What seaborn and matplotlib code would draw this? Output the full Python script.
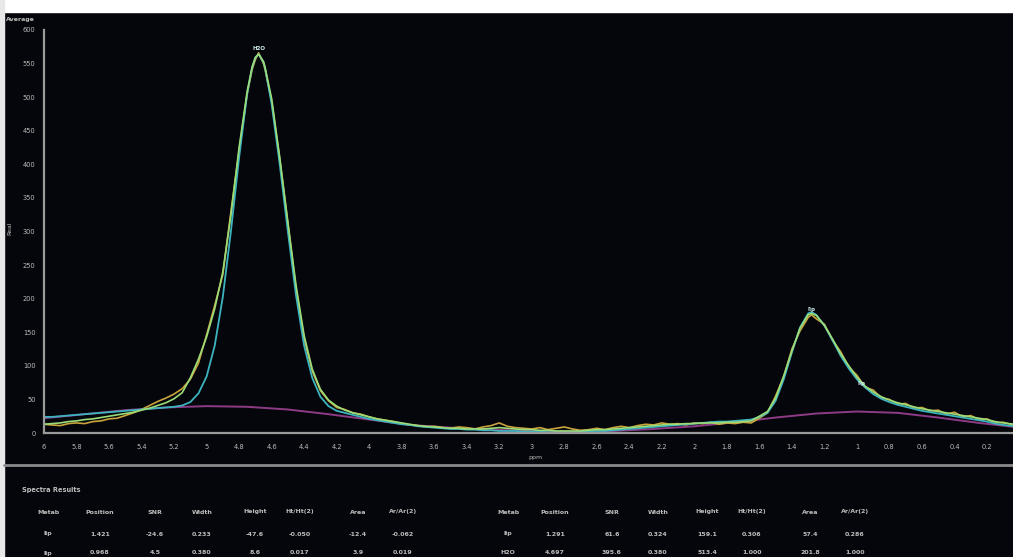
import matplotlib
matplotlib.use("Agg")
import matplotlib.pyplot as plt
from matplotlib.patches import Rectangle
from matplotlib.lines import Line2D
import seaborn as sns

# ---- data ----
ppm = [6.00, 5.95, 5.90, 5.85, 5.80, 5.75, 5.70, 5.65, 5.60, 5.55,
       5.50, 5.45, 5.40, 5.35, 5.30, 5.25, 5.20, 5.15, 5.10, 5.05,
       5.00, 4.95, 4.90, 4.85, 4.80, 4.75, 4.72, 4.70, 4.68, 4.65, 4.64, 4.60,
       4.55, 4.50, 4.45, 4.40, 4.35, 4.30, 4.25, 4.20, 4.15, 4.10,
       4.05, 4.00, 3.95, 3.90, 3.85, 3.80, 3.75, 3.70, 3.65, 3.60,
       3.55, 3.50, 3.45, 3.40, 3.35, 3.30, 3.25, 3.20, 3.15, 3.10,
       3.05, 3.00, 2.95, 2.90, 2.85, 2.80, 2.75, 2.70, 2.65, 2.60,
       2.55, 2.50, 2.45, 2.40, 2.35, 2.30, 2.25, 2.20, 2.15, 2.10,
       2.05, 2.00, 1.95, 1.90, 1.85, 1.80, 1.75, 1.70, 1.65, 1.60,
       1.55, 1.50, 1.45, 1.40, 1.35, 1.30, 1.28, 1.25, 1.20, 1.15,
       1.10, 1.05, 1.00, 0.95, 0.90, 0.85, 0.80, 0.75, 0.70, 0.65,
       0.60, 0.55, 0.50, 0.45, 0.40, 0.35, 0.30, 0.25, 0.20, 0.15,
       0.10, 0.03]

raw = [13, 12, 11, 14, 15, 14, 17, 18, 21, 22,
       26, 30, 35, 41, 47, 52, 58, 66, 80, 104,
       146, 190, 236, 330, 420, 505, 541, 556, 566, 550, 541, 494,
       408, 312, 215, 140, 92, 63, 48, 38, 35, 30,
       28, 24, 21, 19, 17, 14, 12, 11, 9, 10,
       8, 7, 9, 8, 6, 9, 11, 15, 10, 8,
       7, 6, 8, 5, 7, 9, 6, 4, 5, 7,
       5, 8, 10, 8, 11, 13, 12, 15, 13, 14,
       12, 15, 14, 16, 13, 15, 14, 16, 15, 22,
       30, 55, 84, 125, 152, 172, 176, 170, 162, 138,
       121, 98, 86, 68, 64, 52, 50, 43, 44, 37,
       38, 33, 34, 28, 31, 24, 26, 20, 21, 15,
       16, 11]

fit_cyan = [24, 24, 25, 26, 27, 28, 29, 30, 31, 32,
            33, 34, 35, 36, 37, 38, 39, 41, 46, 59,
            84, 130, 203, 301, 410, 506, 544, 559, 564, 552, 543, 490,
            400, 300, 205, 130, 82, 54, 40, 33, 30, 27,
            24, 21, 19, 17, 15, 13, 12, 10, 9, 8,
            7, 6, 6, 5, 5, 4, 4, 3, 3, 3,
            2, 2, 2, 1, 1, 1, 1, 2, 2, 3,
            3, 4, 5, 6, 7, 8, 9, 10, 11, 12,
            13, 14, 15, 16, 17, 17, 18, 19, 20, 24,
            30, 48, 80, 120, 157, 178, 180, 176, 160, 138,
            115, 96, 80, 68, 58, 51, 46, 42, 39, 36,
            33, 31, 29, 27, 25, 23, 21, 19, 17, 14,
            12, 10]

fit_green = [13, 14, 15, 17, 18, 20, 21, 23, 25, 27,
             29, 31, 34, 37, 41, 45, 51, 60, 82, 110,
             143, 185, 240, 325, 425, 509, 545, 559, 564, 553, 544, 498,
             410, 314, 220, 145, 95, 65, 49, 40, 34, 30,
             27, 24, 21, 19, 17, 15, 13, 11, 10, 9,
             8, 7, 7, 6, 6, 6, 7, 8, 7, 6,
             5, 5, 4, 4, 3, 3, 3, 3, 4, 5,
             5, 6, 7, 8, 9, 10, 11, 12, 13, 13,
             14, 14, 15, 15, 15, 16, 16, 17, 18, 25,
             32, 52, 85, 122, 156, 176, 178, 175, 160, 140,
             118, 100, 83, 70, 61, 54, 49, 45, 42, 39,
             36, 34, 32, 30, 28, 26, 24, 22, 20, 17,
             15, 13]

base_ppm = [6.0, 5.75, 5.5, 5.25, 5.0, 4.75, 4.5, 4.25, 4.0, 3.75, 3.5, 3.25, 3.0,
            2.75, 2.5, 2.25, 2.0, 1.75, 1.5, 1.25, 1.0, 0.75, 0.5, 0.25, 0.03]
base_val = [22, 28, 34, 38, 40, 39, 35, 28, 20, 12, 8, 5, 3,
            2, 3, 6, 10, 16, 23, 29, 32, 30, 23, 15, 9]

peak_names = ["H2O", "lip", "lip"]
peak_ppm = [4.68, 1.28, 0.97]
peak_val = [568, 180, 70]

x_ticks = [6.0, 5.8, 5.6, 5.4, 5.2, 5.0, 4.8, 4.6, 4.4, 4.2, 4.0, 3.8, 3.6, 3.4, 3.2,
           3.0, 2.8, 2.6, 2.4, 2.2, 2.0, 1.8, 1.6, 1.4, 1.2, 1.0, 0.8, 0.6, 0.4, 0.2]
y_ticks = [0, 50, 100, 150, 200, 250, 300, 350, 400, 450, 500, 550, 600]

table_cols = ["Metab", "Position", "SNR", "Width", "Height", "Ht/Ht(2)", "Area", "Ar/Ar(2)"]
left_rows = [["lip", "1.421", "-24.6", "0.233", "-47.6", "-0.050", "-12.4", "-0.062"],
             ["lip", "0.968", "4.5", "0.380", "8.6", "0.017", "3.9", "0.019"]]
right_rows = [["lip", "1.291", "61.6", "0.324", "159.1", "0.306", "57.4", "0.286"],
              ["H2O", "4.697", "395.6", "0.380", "513.4", "1.000", "201.8", "1.000"]]

# ---- style ----
BG = "#05060b"
TXT = "#bdbdbd"
AXC = "#9a9a9a"
W, H = 1013, 557

sns.set_style("dark")
plt.rcParams["font.family"] = ["DejaVu Sans"]

fig = plt.figure(figsize=(W / 100, H / 100), dpi=100, facecolor=BG)

# white screenshot borders
fig.patches.append(Rectangle((0, 1 - 12 / H), 1, 12 / H, transform=fig.transFigure,
                             color="white", zorder=0))
fig.patches.append(Rectangle((0, 0), 4 / W, 1, transform=fig.transFigure,
                             color="#e8e8e8", zorder=0))

ax = fig.add_axes([44 / W, 124 / H, (W - 44) / W, 403 / H])
ax.set_facecolor(BG)

sns.lineplot(x=base_ppm, y=base_val, ax=ax, color="#8e3b86", lw=1.4, sort=False)
sns.lineplot(x=ppm, y=raw, ax=ax, color="#c9a43c", lw=1.2, sort=False)
sns.lineplot(x=ppm, y=fit_cyan, ax=ax, color="#3cb4c0", lw=1.3, sort=False)
sns.lineplot(x=ppm, y=fit_green, ax=ax, color="#9bdc78", lw=1.2, sort=False)

for name, px, py in zip(peak_names, peak_ppm, peak_val):
    ax.text(px, py, name, color="#cfeeee", fontsize=4, ha="center", va="bottom",
            fontweight="bold")

ax.set_xlim(6.0, 0.04)
ax.set_ylim(0, 600)
ax.grid(False)
ax.set_xticks(x_ticks)
ax.set_xticklabels([f"{t:g}" for t in x_ticks])
ax.set_yticks(y_ticks)
ax.tick_params(axis="both", colors=AXC, labelcolor=TXT, labelsize=4.8,
               length=2.5, width=1, direction="out")
ax.tick_params(axis="x", direction="in", pad=8)
for side in ["top", "right"]:
    ax.spines[side].set_visible(False)
for side in ["left", "bottom"]:
    ax.spines[side].set_visible(True)
    ax.spines[side].set_color(AXC)
    ax.spines[side].set_linewidth(1.6)
ax.set_xlabel("")
ax.set_ylabel("")

fig.text(6 / W, 1 - 20 / H, "Average", color=TXT, fontsize=4.5, fontweight="bold",
         va="center")
fig.text(10 / W, 1 - 228 / H, "Real", color=TXT, fontsize=4.5, rotation=90,
         ha="center", va="center")
fig.text(535 / W, 1 - 458 / H, "ppm", color=TXT, fontsize=4.5, ha="center", va="center")

# separator between spectrum and results
fig.add_artist(Line2D([4 / W, 1], [1 - 465 / H, 1 - 465 / H], transform=fig.transFigure,
                      color="#8a8a8a", lw=2))

# ---- results table ----
fig.text(22 / W, 1 - 490 / H, "Spectra Results", color=TXT, fontsize=4.8,
         fontweight="bold", va="center")
left_x = [48, 100, 155, 202, 255, 300, 358, 403]
right_x = [508, 555, 612, 658, 707, 752, 810, 855]
row_y = [512, 534, 553]
for xs, rows in [(left_x, left_rows), (right_x, right_rows)]:
    for cx, head in zip(xs, table_cols):
        fig.text(cx / W, 1 - row_y[0] / H, head, color=TXT, fontsize=4.5,
                 ha="center", va="center", fontweight="bold")
    for ry, row in zip(row_y[1:], rows):
        for cx, val in zip(xs, row):
            fig.text(cx / W, 1 - ry / H, val, color=TXT, fontsize=4.5,
                     ha="center", va="center", fontweight="bold")

fig.savefig("out.png", dpi=100, facecolor=BG)
